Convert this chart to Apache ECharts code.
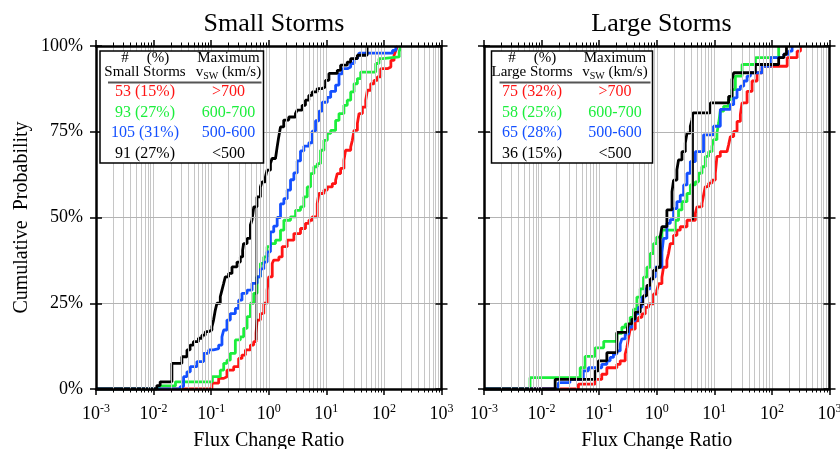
<!DOCTYPE html>
<html lang="en">
<head>
<meta charset="UTF-8">
<title>Flux Change Ratio</title>
<script src="https://cdn.jsdelivr.net/npm/echarts@6/dist/echarts.min.js"></script>
<style>html,body{margin:0;padding:0;background:#fff;}</style>
</head>
<body>
<div id="chart" style="width:840px;height:449px;"></div>
<script>
// axis ticks (log10 of flux change ratio) and percent ticks
var decades = [-3, -2, -1, 0, 1, 2, 3];
var yTicks = [0, 25, 50, 75, 100];
var panelTitles = ['Small Storms', 'Large Storms'];
var groupTitles = ['Small Storms', 'Large Storms'];
var speedRanges = ['>700', '600-700', '500-600', '<500'];
var seriesColors = ['#ff1414', '#1cee3c', '#1450ff', '#000000'];
var smallCounts = [53, 93, 105, 91];
var smallPcts = [15, 27, 31, 27];
var largeCounts = [75, 58, 65, 36];
var largePcts = [32, 25, 28, 15];

// cumulative curves: [flux change ratio, cumulative %]
var smallRed = [[0.103,1.7],[0.135,3.1],[0.165,3.6],[0.188,5.5],[0.246,6.5],[0.30,8.9],[0.343,9.9],[0.393,11.4],[0.48,12.8],[0.548,13.8],[0.602,16.2],[0.627,20.1],[0.716,22],[0.82,25],[0.936,28.8],[1.0,32.7],[1.15,36.6],[1.22,37.6],[1.5,38.5],[1.71,41.5],[2.09,43.4],[2.73,45.3],[3.56,46.8],[4.35,48.3],[4.98,49.2],[5.69,50.2],[6.95,54.1],[7.43,57],[9.08,58],[10.4,58.9],[12.7,59.9],[14.5,60.9],[15.5,62.8],[17.7,64.3],[20.2,66.7],[21.6,69.6],[26.5,70.6],[28.3,72.5],[30.3,75.4],[34.6,77.4],[37,80.3],[42.3,82.2],[48.3,84.2],[51.6,87.1],[59,89],[67.5,90],[77,91],[88,93.4],[115,93.9],[132,95.8],[150,97.3],[161,98.7],[172,100]];
var smallGreen = [[0.0125,0.9],[0.024,2.1],[0.105,3.6],[0.144,5.5],[0.165,7.5],[0.188,8.4],[0.215,10.4],[0.263,14.3],[0.321,15.2],[0.367,17.7],[0.42,21.1],[0.48,25],[0.548,27.9],[0.627,32.7],[0.716,36.6],[0.82,38.5],[0.936,41.5],[1.07,42.4],[1.31,43.4],[1.6,46.3],[1.83,49.2],[2.39,50.2],[2.92,52.1],[3.56,53.1],[4.07,56],[4.66,58.9],[5.32,62.8],[6.08,64.8],[6.95,65.7],[7.94,69.6],[9.08,72.5],[10.4,74.5],[11.9,75.4],[14.5,78.3],[16.6,80.3],[20.2,82.7],[23.1,84.2],[26.5,86.6],[30.3,89],[34.6,90.5],[39.5,92.4],[72,94.9],[82,96.3],[94,96.8],[184,98.3],[196,100]];
var smallBlue = [[0.029,0.7],[0.0332,3.6],[0.038,5],[0.0434,6.5],[0.0566,8],[0.074,10.4],[0.0904,11.4],[0.11,11.8],[0.135,12.8],[0.154,15.2],[0.165,17.2],[0.188,20.1],[0.215,22],[0.263,23.5],[0.30,25.9],[0.343,27.9],[0.42,28.8],[0.513,30.8],[0.627,32.7],[0.716,35],[0.82,37],[0.936,40],[1.07,45.8],[1.22,47.5],[1.4,50],[1.6,54],[1.83,55.5],[2.09,58],[2.39,61],[2.73,63],[3.12,66.5],[3.56,69.4],[4.07,70.8],[4.98,71.8],[5.69,75.2],[6.5,78.2],[7.43,81],[8.49,83.6],[10.4,85],[11.9,86.8],[14.5,88.6],[16.6,91.9],[18.9,93.4],[23.2,93.9],[26.5,94.9],[30.3,96.3],[34.6,96.8],[37,97.9],[141,98.7],[161,100]];
var smallBlack = [[0.0114,1],[0.013,2.1],[0.0208,7.5],[0.031,9.4],[0.038,11.4],[0.043,12.8],[0.049,13.8],[0.06,14.8],[0.069,15.7],[0.079,16.7],[0.09,17.2],[0.103,18.1],[0.11,20.1],[0.118,23],[0.126,25],[0.144,26.9],[0.154,28.8],[0.165,30.8],[0.176,32.7],[0.201,33.7],[0.23,35.6],[0.281,37],[0.321,38.5],[0.352,40.5],[0.366,42.4],[0.42,43.9],[0.48,47.8],[0.51,49.2],[0.55,53.1],[0.625,56],[0.716,58.9],[0.765,60.4],[0.875,61.8],[0.935,63.8],[1.07,65.7],[1.14,67.2],[1.31,67.7],[1.4,70.6],[1.49,73.5],[1.6,76.4],[1.82,78.4],[2.23,79.3],[2.91,80.3],[3.11,81.3],[3.8,82.7],[4.34,84.2],[4.96,85.6],[5.67,86.6],[6.93,87.6],[8.5,88.1],[9.7,90],[11.1,92],[15.5,92.9],[17.7,94.4],[23.1,95.3],[26.4,96.3],[34.5,97.3],[51,100]];
var smallBlackDrop = [[0.61,14.3],[0.61,53]];

var largeRed = [[0.0436,1.4],[0.085,2.8],[0.111,4.3],[0.136,6.2],[0.203,7.2],[0.232,8.2],[0.283,10.2],[0.303,12.1],[0.324,15],[0.346,17.5],[0.423,19.9],[0.482,20.9],[0.553,21.9],[0.631,23.8],[0.721,24.8],[0.88,27.7],[1.0,28.7],[1.08,30.7],[1.23,32.6],[1.31,35.5],[1.5,37.5],[1.6,39.5],[1.72,42.4],[1.96,44.8],[2.24,46.3],[2.56,47.3],[3.35,49.2],[4.68,51.2],[5.0,53.1],[6.1,54.1],[6.5,56.5],[6.97,59],[7.96,60],[9.1,60.9],[10.4,62.9],[11.1,67.8],[12.7,69.2],[16.6,69.7],[17.7,71.2],[19,73.6],[21.7,75.1],[24.8,78],[28.3,80],[30.3,83.4],[37,86.8],[45.2,89.8],[55.2,92.2],[67.5,94.1],[184,96.6],[274,98.5],[313,100]];
var largeGreen = [[0.0063,3.3],[0.0468,6.2],[0.057,9.5],[0.085,12],[0.12,13.9],[0.203,16.2],[0.248,18],[0.283,18.9],[0.346,20.9],[0.395,23.3],[0.452,26.8],[0.516,29.2],[0.59,32.6],[0.675,35.5],[0.771,39.5],[0.88,42.4],[1.0,44.3],[1.23,46.3],[2.1,49.2],[2.39,52.2],[2.74,54.6],[3.35,57],[3.83,59.5],[4.68,60.4],[5.33,62.9],[6.1,64.8],[6.97,67.8],[7.96,69.2],[9.1,70.7],[9.7,72.7],[11.1,74.6],[11.9,77.6],[12.7,81],[14.5,82.4],[17.7,84.4],[20.3,87.3],[23.2,91.2],[30.3,94.6],[51.7,96.6],[131,100]];
var largeBlue = [[0.0196,1.85],[0.031,2.8],[0.053,5.3],[0.065,6.2],[0.111,7.2],[0.136,8.2],[0.155,9.2],[0.177,10.2],[0.203,11.1],[0.232,13.1],[0.248,14.6],[0.283,16],[0.324,18],[0.371,19.9],[0.423,21.9],[0.482,23.8],[0.553,26.8],[0.631,29.2],[0.771,30.2],[0.824,32.6],[0.94,35.5],[1.23,39.9],[1.31,43.9],[1.5,48.3],[1.72,49.4],[1.96,52.6],[2.24,54.6],[2.56,56.5],[2.93,59.5],[3.35,62.9],[3.83,66.3],[4.68,69.2],[6.5,74.1],[9.7,76.6],[12.7,81.5],[19,82.9],[21.7,84.9],[24.8,87.3],[28.3,88.3],[32.4,89.8],[37,91.2],[42.3,92.2],[67.5,94.1],[94,96.6],[161,97.6],[196,98.5],[224,100]];
var largeBlack = [[0.0172,2.8],[0.085,5.3],[0.097,8.2],[0.136,10.6],[0.203,16.5],[0.31,17.8],[0.324,19],[0.371,20.4],[0.423,22.4],[0.516,24.8],[0.59,27.2],[0.675,30.2],[0.771,32.1],[0.88,34.6],[1.0,35.5],[1.15,44.3],[1.23,47.3],[1.5,52.2],[1.84,57.5],[1.96,60.9],[2.24,63.9],[2.39,66.8],[2.74,69.2],[3.13,71.7],[3.35,74.6],[3.83,76.6],[4.09,78.5],[4.26,80.5],[8.5,83.4],[17.7,85.3],[20.3,90.2],[21.7,92.2],[51.7,94.6],[131,96.6],[161,97.6],[179,100]];
var largeBlackDrop = [[4.26,49.2],[4.26,80.5]];

var serif = '"Liberation Serif", "DejaVu Serif", serif';
var panels = [
    { curves: [smallRed, smallGreen, smallBlue, smallBlack], drop: smallBlackDrop, counts: smallCounts, pcts: smallPcts,
      gridLeft: 96, gridRight: 398.5, titleX: 269, boxX: 100, boxW: 163.5, col1: 145, col2: 228.5 },
    { curves: [largeRed, largeGreen, largeBlue, largeBlack], drop: largeBlackDrop, counts: largeCounts, pcts: largePcts,
      gridLeft: 484, gridRight: 10.5, titleX: 656.5, boxX: 491.5, boxW: 161, col1: 532, col2: 615 }
];

var minorTicks = [];
for (var d = 0; d < decades.length - 1; d++) {
    for (var k = 2; k <= 9; k++) minorTicks.push(decades[d] + Math.log10(k));
}
var xMin = decades[0], xMax = decades[decades.length - 1];

var grids = [], xAxes = [], yAxes = [], series = [], titles = [], elements = [];

panels.forEach(function (p, gi) {
    grids.push({ left: p.gridLeft, right: p.gridRight, top: 46, bottom: 60, outerBoundsMode: 'none', containLabel: false });
    titles.push({ text: panelTitles[gi], left: p.titleX, top: 6, textAlign: 'center',
        textStyle: { fontFamily: serif, fontSize: 26, fontWeight: 'normal', color: '#000' } });

    var mainLine = { show: true, onZero: false, lineStyle: { color: '#000', width: 2.5 } };
    var noLine = { show: false, onZero: false };
    var xBase = { type: 'value', gridIndex: gi, min: xMin, max: xMax, interval: 1, z: 5,
        splitLine: { show: false }, axisLabel: { show: false } };
    xAxes.push(Object.assign({}, xBase, {
        position: 'bottom', axisLine: mainLine,
        axisTick: { length: 6, lineStyle: { color: '#000', width: 1.5 } },
        axisLabel: { show: true, margin: 14, color: '#000',
            formatter: function (v) { return '{b|10}{e|' + v + '}'; },
            rich: { b: { fontFamily: serif, fontSize: 18, color: '#000', lineHeight: 22 },
                    e: { fontFamily: serif, fontSize: 12, color: '#000', lineHeight: 12, verticalAlign: 'top' } } },
        name: 'Flux Change Ratio', nameLocation: 'middle', nameGap: 42,
        nameTextStyle: { fontFamily: serif, fontSize: 20, color: '#000' }
    }));
    xAxes.push(Object.assign({}, xBase, { position: 'bottom', axisLine: noLine,
        axisTick: { customValues: minorTicks, length: 3.5, lineStyle: { color: '#000', width: 1 } } }));
    xAxes.push(Object.assign({}, xBase, { position: 'top', axisLine: mainLine,
        axisTick: { length: 6, lineStyle: { color: '#000', width: 1.5 } } }));
    xAxes.push(Object.assign({}, xBase, { position: 'top', axisLine: noLine,
        axisTick: { customValues: minorTicks, length: 3.5, lineStyle: { color: '#000', width: 1 } } }));

    var yBase = { type: 'value', gridIndex: gi, min: yTicks[0], max: yTicks[yTicks.length - 1], interval: 25, z: 5,
        splitLine: { show: false }, axisLabel: { show: false } };
    yAxes.push(Object.assign({}, yBase, { position: 'left', axisLine: mainLine,
        axisTick: { length: 6, lineStyle: { color: '#000', width: 1.5 } },
        axisLabel: { show: gi === 0, margin: 13, formatter: '{value}%', fontFamily: serif, fontSize: 18, color: '#000' },
        name: gi === 0 ? 'Cumulative  Probability' : '', nameLocation: 'middle', nameGap: 64,
        nameTextStyle: { fontFamily: serif, fontSize: 20, color: '#000' } }));
    yAxes.push(Object.assign({}, yBase, { position: 'right', axisLine: mainLine,
        axisTick: { length: 6, lineStyle: { color: '#000', width: 1.5 } } }));
    yAxes.push(Object.assign({}, yBase, { position: 'left', axisLine: noLine,
        axisTick: { inside: true, length: 6, lineStyle: { color: '#000', width: 1.5 } } }));
    yAxes.push(Object.assign({}, yBase, { position: 'right', axisLine: noLine,
        axisTick: { inside: true, length: 6, lineStyle: { color: '#000', width: 1.5 } } }));

    // grid lines drawn as mark lines behind the curves
    var gridMarks = [];
    decades.slice(1, -1).concat(minorTicks).forEach(function (v) { gridMarks.push({ xAxis: v }); });
    yTicks.slice(1, -1).forEach(function (v) { gridMarks.push({ yAxis: v, lineStyle: { color: '#b4b4b4', width: 1.2 } }); });
    series.push({ type: 'line', xAxisIndex: gi * 4, yAxisIndex: gi * 4, data: [], z: 1, silent: true,
        markLine: { silent: true, symbol: ['none', 'none'], animation: false, label: { show: false },
            lineStyle: { color: '#c6c6c6', width: 1, type: 'solid' }, data: gridMarks } });

    p.curves.forEach(function (c, ci) {
        series.push({ type: 'line', step: 'end', xAxisIndex: gi * 4, yAxisIndex: gi * 4, z: 3,
            showSymbol: false, symbol: 'none', animation: false, silent: true,
            lineStyle: { color: seriesColors[ci], width: 2.8 },
            data: [[xMin, 0]].concat(c.map(function (pt) { return [Math.log10(pt[0]), pt[1]]; })) });
    });
    series.push({ type: 'line', xAxisIndex: gi * 4, yAxisIndex: gi * 4, z: 3, showSymbol: false, symbol: 'none',
        animation: false, silent: true, lineStyle: { color: '#000', width: 1.8 },
        data: p.drop.map(function (pt) { return [Math.log10(pt[0]), pt[1]]; }) });

    // legend table
    var txt = function (x, y, s, color, size) {
        return { type: 'text', x: x, y: y, z: 20, silent: true,
            style: { text: s, fill: color, fontFamily: serif, fontSize: size, align: 'center', verticalAlign: 'middle' } };
    };
    elements.push({ type: 'rect', z: 19, silent: true, shape: { x: p.boxX, y: 51, width: p.boxW, height: 112 },
        style: { fill: '#fff', stroke: '#000', lineWidth: 1.5 } });
    elements.push(txt(p.col1 - 20, 58.5, '#', '#000', 15));
    elements.push(txt(p.col1 + 13, 58.5, '(%)', '#000', 15));
    elements.push(txt(p.col1, 72, groupTitles[gi], '#000', 15));
    elements.push(txt(p.col2, 58.5, 'Maximum', '#000', 15));
    elements.push({ type: 'text', x: p.col2, y: 72, z: 20, silent: true,
        style: { text: '{a|v}{s|SW}{a| (km/s)}', align: 'center', verticalAlign: 'middle',
            rich: { a: { fontFamily: serif, fontSize: 15, fill: '#000', lineHeight: 18 },
                    s: { fontFamily: serif, fontSize: 10, fill: '#000', lineHeight: 10, verticalAlign: 'bottom' } } } });
    elements.push({ type: 'line', z: 20, silent: true,
        shape: { x1: p.boxX + 8, y1: 82.5, x2: p.boxX + p.boxW - 2, y2: 82.5 },
        style: { stroke: '#555', lineWidth: 2 } });
    p.counts.forEach(function (n, i) {
        var y = 92 + 20.5 * i;
        elements.push(txt(p.col1, y, n + ' (' + p.pcts[i] + '%)', seriesColors[i], 16));
        elements.push(txt(p.col2, y, speedRanges[i], seriesColors[i], 16));
    });
});

var chart = echarts.init(document.getElementById('chart'));
chart.setOption({
    animation: false,
    backgroundColor: '#fff',
    title: titles,
    grid: grids,
    xAxis: xAxes,
    yAxis: yAxes,
    series: series,
    graphic: { elements: elements }
});
</script>
</body>
</html>
